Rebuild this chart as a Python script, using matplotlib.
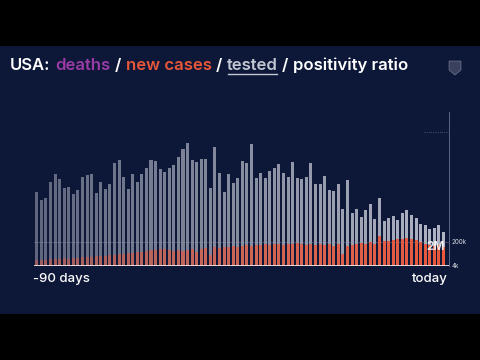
import numpy as np
import matplotlib
matplotlib.use('Agg')
import matplotlib.pyplot as plt
from matplotlib.patches import Rectangle, Polygon

# last 90 days, oldest first
tested = [74, 66, 68, 84, 92, 87, 78, 79, 72, 76,
          89, 91, 92, 73, 84, 77, 82, 103, 106, 89,
          77, 92, 84, 92, 98, 106, 105, 97, 94, 98,
          101, 109, 117, 123, 106, 104, 107, 107, 78, 119,
          93, 74, 92, 83, 88, 105, 103, 122, 88, 93,
          88, 95, 98, 102, 93, 89, 104, 88, 87, 89,
          103, 82, 82, 90, 76, 75, 82, 57, 86, 53,
          57, 49, 56, 62, 47, 68, 45, 48, 50, 46,
          53, 56, 51, 48, 42, 41, 37, 38, 41, 34]  # tests, x10k

new_cases = [15, 15, 15, 18, 18, 18, 20, 18, 20, 20,
             23, 23, 23, 25, 25, 25, 28, 28, 30, 30,
             33, 33, 35, 35, 38, 40, 40, 43, 43, 40,
             38, 40, 38, 40, 43, 35, 43, 45, 28, 48,
             45, 48, 48, 50, 48, 50, 53, 50, 53, 53,
             55, 53, 55, 55, 53, 55, 55, 58, 55, 53,
             55, 53, 55, 53, 55, 50, 55, 30, 50, 53,
             55, 58, 55, 60, 55, 75, 63, 63, 65, 68,
             68, 70, 68, 65, 60, 55, 53, 50, 53, 48]  # thousands

W, H = 480, 360
navy = '#0d1738'
gray = '#c3c6d3'
orange = '#e8573a'
purple = '#9a3ba6'

fig = plt.figure(figsize=(4.8, 3.6), dpi=100)
fig.patch.set_facecolor('black')
fig.patches.append(Rectangle((0, 46 / H), 1, 268 / H, transform=fig.transFigure,
                             facecolor=navy, edgecolor='none', zorder=-10))

# small shield logo, top right
shield = [(449, 61), (461, 61), (461, 70), (455, 75), (449, 70)]
fig.patches.append(Polygon([(px / W, 1 - py / H) for px, py in shield], closed=True,
                           transform=fig.transFigure, facecolor='#6f7590',
                           edgecolor='#c9ccd8', lw=0.5, alpha=0.45, zorder=1))

ax = fig.add_axes([34 / W, (H - 266) / H, 415 / W, 154 / H])
ax.patch.set_alpha(0)
x = np.arange(len(tested))
n = len(tested)

gcol = [matplotlib.colors.to_rgba(gray, a) for a in np.linspace(0.45, 0.9, n)]
ocol = [matplotlib.colors.to_rgba(orange, a) for a in np.linspace(0.45, 1.0, n)]

ax.bar(x, tested, width=0.66, color=gcol, linewidth=0)
ax.set_xlim(-0.6, 90.2)
ax.set_ylim(0, 154)
ax.axhline(24, color='#8a90a8', lw=0.6, alpha=0.45)
ax.axhline(134, xmin=0.94, xmax=1.0, color='#8a90a8', lw=0.6, ls=':', alpha=0.7)

ax2 = ax.twinx()
ax2.patch.set_alpha(0)
ax2.bar(x, new_cases, width=0.66, color=ocol, linewidth=0)
ax2.set_ylim(0, 154 * 2.5)
ax2.axhline(0, color='#f3e2e2', lw=1.3, zorder=5)

for a in (ax, ax2):
    for s in a.spines.values():
        s.set_visible(False)
    a.set_xticks([])
    a.set_yticks([])
ax2.spines['right'].set_visible(True)
ax2.spines['right'].set_color('#6c7390')
ax2.spines['right'].set_linewidth(0.6)

# labels
fig.text(33 / W, 1 - 279 / H, '-90 days', color='white', fontsize=9.5,
         family='Inter', weight='medium', va='center', ha='left')
fig.text(448 / W, 1 - 279 / H, 'today', color='white', fontsize=9.5,
         family='Inter', weight='medium', va='center', ha='right')
fig.text(452 / W, 1 - 242 / H, '200k', color='#d8dae4', fontsize=4.5,
         family='Inter', va='center', ha='left')
fig.text(452 / W, 1 - 266 / H, '4k', color='#d8dae4', fontsize=4.5,
         family='Inter', va='center', ha='left')
fig.text(445 / W, 1 - 247 / H, '2M', color='white', alpha=0.85, fontsize=8.5,
         family='Inter', weight='bold', va='center', ha='right')

# title in colored pieces
parts = [('USA:', 'white'), ('deaths', purple), ('/', 'white'),
         ('new cases', orange), ('/', 'white'), ('tested', gray),
         ('/', 'white'), ('positivity ratio', 'white')]
renderer = fig.canvas.get_renderer()
xpos = 10
for word, c in parts:
    t = fig.text(xpos / W, 1 - 65 / H, word, color=c, fontsize=12,
                 family='Inter', weight='semibold', va='center', ha='left')
    bb = t.get_window_extent(renderer)
    if word == 'tested':
        fig.add_artist(plt.Line2D([(bb.x0 + 1) / W, (bb.x1 - 1) / W],
                                  [1 - 73.5 / H, 1 - 73.5 / H],
                                  color=gray, lw=1.0, transform=fig.transFigure))
    xpos = bb.x1 + 4.5

fig.savefig('out.png', dpi=100, facecolor=fig.get_facecolor())
